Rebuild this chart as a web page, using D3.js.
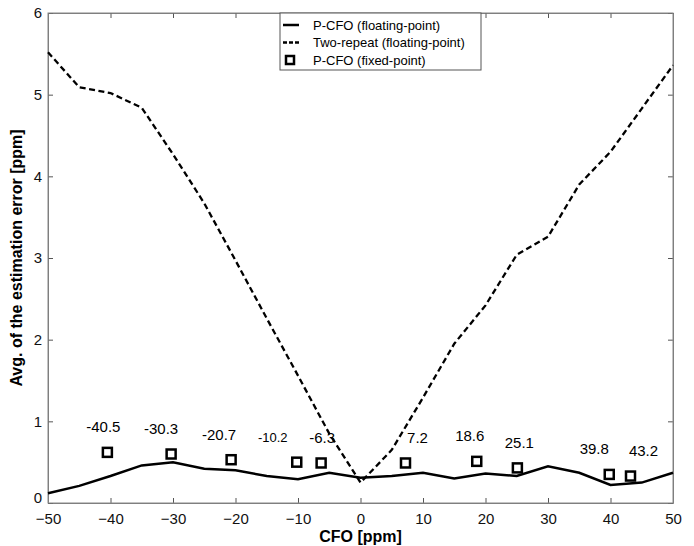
<!DOCTYPE html>
<html>
<head>
<meta charset="utf-8">
<script src="https://d3js.org/d3.v7.min.js"></script>
<style>
body { margin: 0; background: #fff; }
text { font-family: "Liberation Sans", Arial, sans-serif; }
</style>
</head>
<body>
<script>
// CFO grid for the two floating-point curves
var cfo = [-50, -45, -40, -35, -30, -25, -20, -15, -10, -5, 0, 5, 10, 15, 20, 25, 30, 35, 40, 45, 50];
var pcfoFloat = [0.12, 0.21, 0.33, 0.46, 0.50, 0.42, 0.40, 0.33, 0.29, 0.37, 0.31, 0.33, 0.37, 0.30, 0.36, 0.33, 0.45, 0.37, 0.22, 0.25, 0.37];
var twoRepeat = [5.52, 5.09, 5.02, 4.84, 4.27, 3.67, 2.97, 2.26, 1.56, 0.85, 0.25, 0.65, 1.29, 1.95, 2.42, 3.04, 3.26, 3.90, 4.30, 4.83, 5.36];

// fixed-point results (tested CFO values)
var fixedCfo = [-40.5, -30.3, -20.7, -10.2, -6.3, 7.2, 18.6, 25.1, 39.8, 43.2];
var fixedErr = [0.62, 0.60, 0.53, 0.50, 0.49, 0.49, 0.51, 0.43, 0.35, 0.33];
var fixedLabels = ["-40.5", "-30.3", "-20.7", "-10.2", "-6.3", "7.2", "18.6", "25.1", "39.8", "43.2"];

var xTicks = [-50, -40, -30, -20, -10, 0, 10, 20, 30, 40, 50];
var yTicks = [0, 1, 2, 3, 4, 5, 6];

var margin = {top: 13, right: 21, bottom: 43, left: 48},
    width = 694 - margin.left - margin.right,
    height = 546 - margin.top - margin.bottom;

var svg = d3.select("body").append("svg")
    .attr("width", 694)
    .attr("height", 546)
  .append("g")
    .attr("transform", "translate(" + margin.left + "," + margin.top + ")");

var x = d3.scaleLinear().domain([-50, 50]).range([0, width]);
var y = d3.scaleLinear().domain([0, 6]).range([height, 0]);

// axes, ticks pointing inward like matlab
svg.append("g")
    .attr("transform", "translate(0," + height + ")")
    .call(d3.axisBottom(x).tickValues(xTicks).tickSizeInner(-5).tickSizeOuter(0).tickPadding(10).tickFormat(d3.format("d")));
svg.append("g")
    .call(d3.axisTop(x).tickValues(xTicks).tickSizeInner(-5).tickSizeOuter(0).tickFormat(""));
var yAxis = svg.append("g")
    .call(d3.axisLeft(y).tickValues(yTicks).tickSizeInner(-5).tickSizeOuter(0).tickPadding(6).tickFormat(d3.format("d")));
svg.append("g")
    .attr("transform", "translate(" + width + ",0)")
    .call(d3.axisRight(y).tickValues(yTicks).tickSizeInner(-5).tickSizeOuter(0).tickFormat(""));

svg.selectAll(".domain").attr("stroke", "#777");
svg.selectAll(".tick line").attr("stroke", "#555");
svg.selectAll(".tick text")
    .style("font-size", "15px")
    .attr("fill", "#111");
// lift the "0" so it clears the "-50" below it
yAxis.selectAll(".tick text").filter(function(d) { return d === 0; }).attr("dy", "-0.05em");

// border box
svg.append("rect")
    .attr("width", width).attr("height", height)
    .attr("fill", "none").attr("stroke", "#888").attr("stroke-width", 1);

var line = d3.line()
    .x(function(d) { return x(d[0]); })
    .y(function(d) { return y(d[1]); });

svg.append("path")
    .datum(d3.zip(cfo, twoRepeat))
    .attr("fill", "none")
    .attr("stroke", "#000")
    .attr("stroke-width", 2.3)
    .attr("stroke-dasharray", "6,3.5")
    .attr("d", line);

svg.append("path")
    .datum(d3.zip(cfo, pcfoFloat))
    .attr("fill", "none")
    .attr("stroke", "#000")
    .attr("stroke-width", 2.5)
    .attr("d", line);

var fixed = d3.zip(fixedCfo, fixedErr, fixedLabels);

svg.selectAll(".sq")
    .data(fixed)
  .enter().append("rect")
    .attr("class", "sq")
    .attr("x", function(d) { return x(d[0]) - 4.5; })
    .attr("y", function(d) { return y(d[1]) - 4.5; })
    .attr("width", 9).attr("height", 9)
    .attr("fill", "#fff")
    .attr("stroke", "#000")
    .attr("stroke-width", 2.5);

// small nudges so the value labels sit where the original has them
var labelDx = [-4, -10, -12, -24, 1, 12, -7, 2, -15, 13];
var labelSize = [15, 15, 15, 13, 15, 15, 15, 15, 15, 15];

svg.selectAll(".lbl")
    .data(fixed)
  .enter().append("text")
    .attr("class", "lbl")
    .attr("x", function(d, i) { return x(d[0]) + labelDx[i]; })
    .attr("y", function(d) { return y(d[1]) - 20; })
    .attr("text-anchor", "middle")
    .style("font-size", function(d, i) { return labelSize[i] + "px"; })
    .text(function(d) { return d[2]; });

// legend
var lg = svg.append("g").attr("transform", "translate(" + (280 - margin.left) + ",0)");
lg.append("rect")
    .attr("width", 201).attr("height", 57)
    .attr("fill", "#fff").attr("stroke", "#555");
var items = [
  {name: "P-CFO (floating-point)", type: "solid"},
  {name: "Two-repeat (floating-point)", type: "dash"},
  {name: "P-CFO (fixed-point)", type: "square"}
];
items.forEach(function(it, i) {
  var yy = 12 + i * 17.5;
  if (it.type === "square") {
    lg.append("rect").attr("x", 6).attr("y", yy - 4).attr("width", 8).attr("height", 8)
      .attr("fill", "#fff").attr("stroke", "#000").attr("stroke-width", 2.5);
  } else {
    lg.append("line").attr("x1", 3).attr("x2", 19).attr("y1", yy).attr("y2", yy)
      .attr("stroke", "#000").attr("stroke-width", 2.5)
      .attr("stroke-dasharray", it.type === "dash" ? "4,2" : null);
  }
  lg.append("text").attr("x", 33).attr("y", yy + 4.5)
    .style("font-size", "13px")
    .text(it.name);
});

// axis titles
svg.append("text")
    .attr("x", width / 2)
    .attr("y", height + 39)
    .attr("text-anchor", "middle")
    .style("font-size", "16px")
    .style("font-weight", "bold")
    .text("CFO [ppm]");

svg.append("text")
    .attr("transform", "rotate(-90)")
    .attr("x", -height / 2)
    .attr("y", -26)
    .attr("text-anchor", "middle")
    .style("font-size", "16px")
    .style("font-weight", "bold")
    .text("Avg. of the estimation error [ppm]");
</script>
</body>
</html>
